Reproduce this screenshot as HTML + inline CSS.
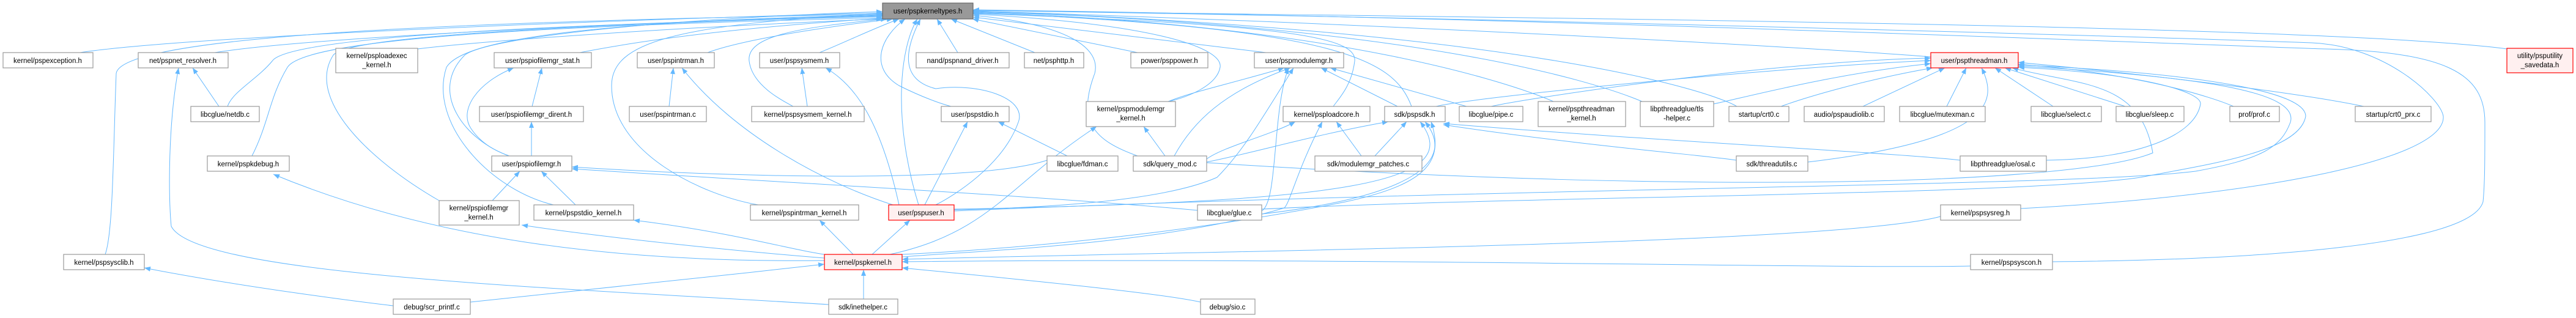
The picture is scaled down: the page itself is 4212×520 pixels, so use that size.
<!DOCTYPE html>
<html><head><meta charset="utf-8"><style>
html,body{margin:0;padding:0;background:#fff;}
svg{display:block;}
text{font-family:"Liberation Sans",sans-serif;font-size:11.5px;fill:#000;text-anchor:middle;}
.n{fill:#fff;stroke:#999;stroke-width:1.2;}
.r{fill:#fff0f0;stroke:#f00;stroke-width:1.2;}
.g{fill:#999;stroke:#666;stroke-width:1.2;}
path.e{fill:none;stroke:#63b8ff;stroke-width:1;marker-start:url(#a);}
</style></head><body>
<svg width="4212" height="520" viewBox="0 0 4212 520" xmlns="http://www.w3.org/2000/svg">
<defs><marker id="a" markerUnits="userSpaceOnUse" markerWidth="11" markerHeight="8" refX="10" refY="4" orient="auto-start-reverse"><path d="M0,0 L10,4 L0,8 z" fill="#63b8ff"/></marker></defs>
<g>
<!-- edges from pspkerneltypes -->
<path class="e" d="M1443,21 C1000,32 300,60 131,86"/>
<path class="e" d="M1443,23 C800,35 200,55 190,120 C185,250 185,380 172,416"/>
<path class="e" d="M1443,25 C1000,38 500,62 351,86"/>
<path class="e" d="M1443,27 C900,40 470,60 445,100 C420,130 380,150 372,174"/>
<path class="e" d="M1443,29 C900,42 500,62 470,110 C440,160 440,200 412,255"/>
<path class="e" d="M1443,31 C1100,45 800,66 683,80"/>
<path class="e" d="M1443,30 C1200,45 1050,66 948,86"/>
<path class="e" d="M1443,19 C1100,30 800,60 760,90 C700,150 760,230 833,255"/>
<path class="e" d="M1443,26 C900,42 570,60 545,90 C500,160 600,260 718,328"/>
<path class="e" d="M1443,24 C1000,35 760,60 730,110 C700,200 800,310 905,335"/>
<path class="e" d="M1460,31 C1300,50 1200,70 1157,86"/>
<path class="e" d="M1470,31 C1420,50 1380,70 1340,86"/>
<path class="e" d="M1450,31 C1300,45 1220,60 1225,100 C1230,140 1280,165 1297,174"/>
<path class="e" d="M1443,22 C1100,40 1000,70 1000,140 C1000,250 1150,320 1240,335"/>
<path class="e" d="M1500,31 C1470,80 1460,200 1502,335"/>
<path class="e" d="M1480,31 C1440,60 1420,110 1470,140 C1510,160 1540,170 1555,174"/>
<path class="e" d="M1505,31 C1480,80 1470,130 1530,145 C1600,135 1680,160 1665,200 C1640,270 1560,320 1530,335"/>
<path class="e" d="M1532,31 L1566,86"/>
<path class="e" d="M1555,31 L1692,86"/>
<path class="e" d="M1590,31 L1860,86"/>
<path class="e" d="M1591,28 L2070,86"/>
<path class="e" d="M1591,25 C1750,40 1800,80 1790,120 C1760,200 1790,230 1860,255"/>
<path class="e" d="M1591,23 C1900,40 2000,80 1995,110 C1990,140 1940,160 1910,166"/>
<path class="e" d="M1591,22 C2100,40 2220,60 2215,100 C2210,140 2190,160 2180,174"/>
<path class="e" d="M1591,21 C2200,45 2280,100 2308,174"/>
<path class="e" d="M1591,20 C2200,40 2480,140 2540,166"/>
<path class="e" d="M1591,19 C2300,40 2600,130 2685,166"/>
<path class="e" d="M1591,18 C2300,40 3000,80 3157,93"/>
<path class="e" d="M1591,18 C2500,50 2800,150 2840,174"/>
<path class="e" d="M1591,17 C2500,30 3800,40 4099,80"/>
<path class="e" d="M1591,17 C2500,30 3500,60 3780,70 C3900,75 3990,160 3995,190 C4000,260 3700,320 3304,341"/>
<path class="e" d="M1591,16 C2500,28 3500,70 3800,80 C4000,85 4063,120 4063,200 C4063,260 4063,300 4060,330 C4040,400 3700,425 3356,428"/>
<!-- pspnet_resolver -->
<path class="e" d="M315,111 L358,174"/>
<path class="e" d="M292,111 C275,200 275,320 280,370 C320,450 900,470 1355,498"/>
<!-- iofilemgr group -->
<path class="e" d="M886,111 L870,174"/>
<path class="e" d="M840,111 C780,135 750,180 770,210 C790,240 820,250 832,255"/>
<path class="e" d="M869,199 L869,255"/>
<path class="e" d="M850,280 L805,328"/>
<path class="e" d="M885,280 L941,335"/>
<path class="e" d="M935,273 C1200,290 1600,300 1712,262"/>
<path class="e" d="M935,276 C1300,300 1700,320 1958,344"/>
<!-- intrman / sysmem -->
<path class="e" d="M1101,111 L1094,174"/>
<path class="e" d="M1115,111 C1200,220 1350,300 1460,335"/>
<path class="e" d="M1311,111 L1320,174"/>
<path class="e" d="M1350,111 C1400,140 1440,200 1470,335"/>
<!-- pspkernel parents -->
<path class="e" d="M853,368 C1000,390 1200,410 1348,422"/>
<path class="e" d="M1036,360 C1200,380 1300,410 1348,416"/>
<path class="e" d="M1340,360 L1395,416"/>
<path class="e" d="M447,285 C700,390 1000,430 1348,426"/>
<path class="e" d="M1488,360 L1426,416"/>
<path class="e" d="M1793,207 C1650,300 1620,380 1455,416"/>
<path class="e" d="M1475,424 C2000,410 3000,400 3173,354"/>
<path class="e" d="M1475,428 C2200,420 3000,440 3222,435"/>
<path class="e" d="M2162,199 C2120,280 2110,330 2100,340 C1900,400 1600,410 1475,420"/>
<path class="e" d="M2340,199 C2360,260 2340,300 2200,330 C1900,390 1600,410 1475,416"/>
<!-- pspkernel children -->
<path class="e" d="M1348,432 C1100,460 800,490 769,494"/>
<path class="e" d="M1412,441 L1412,489"/>
<path class="e" d="M1475,438 C1700,460 1900,480 1963,494"/>
<path class="e" d="M236,438 C400,470 600,495 643,500"/>
<!-- pspstdio -->
<path class="e" d="M1582,199 L1512,335"/>
<path class="e" d="M1632,199 L1745,255"/>
<!-- modulemgr -->
<path class="e" d="M1870,207 L1905,255"/>
<path class="e" d="M2100,111 C2000,140 1950,150 1910,166"/>
<path class="e" d="M2110,111 C2000,150 1950,200 1920,255"/>
<path class="e" d="M2115,111 C2060,200 2030,250 1990,290 C1900,330 1700,340 1560,343"/>
<path class="e" d="M2107,111 C2080,180 2090,330 2063,345"/>
<path class="e" d="M2160,111 L2285,174"/>
<path class="e" d="M2175,111 L2398,174"/>
<!-- loadcore / pspsdk -->
<path class="e" d="M2185,199 L2226,255"/>
<path class="e" d="M2118,199 C2080,220 2000,240 1973,260"/>
<path class="e" d="M2300,199 L2248,255"/>
<path class="e" d="M2270,199 C2150,220 2050,250 1973,265"/>
<path class="e" d="M2322,199 C2400,300 2200,330 1560,342"/>
<path class="e" d="M2330,199 C2380,260 2320,320 2063,350"/>
<path class="e" d="M2360,204 C2600,240 2800,255 2839,262"/>
<path class="e" d="M2360,202 C2700,230 3100,250 3205,262"/>
<!-- pspthreadman children -->
<path class="e" d="M3157,95 C2900,100 2500,160 2438,174"/>
<path class="e" d="M3157,99 C2900,110 2400,160 2348,174"/>
<path class="e" d="M3157,104 C3000,120 2850,160 2802,170"/>
<path class="e" d="M3160,111 C3050,130 2950,160 2912,174"/>
<path class="e" d="M3180,111 L3046,174"/>
<path class="e" d="M3215,111 L3183,174"/>
<path class="e" d="M3240,111 C3270,170 3250,230 2956,265"/>
<path class="e" d="M3262,111 L3357,174"/>
<path class="e" d="M3278,111 L3475,174"/>
<path class="e" d="M3300,105 C3500,120 3620,160 3652,174"/>
<path class="e" d="M3300,102 C3600,130 3800,160 3865,174"/>
<path class="e" d="M3300,110 C3500,120 3600,150 3598,170 C3590,220 3500,260 3346,262"/>
<path class="e" d="M3300,108 C3600,125 3760,150 3745,200 C3730,240 3700,260 3590,280 C3400,305 2500,305 1560,345"/>
<path class="e" d="M3300,106 C3600,120 3770,150 3770,190 C3760,250 3600,270 3500,290 C3300,320 2500,320 2063,342"/>
<path class="e" d="M3290,111 C3400,140 3500,130 3520,250 C3400,300 2800,320 1973,266"/>
</g>
<!-- nodes -->
<g>
<rect class="g" x="1443" y="5" width="148" height="26"/><text x="1517" y="22">user/pspkerneltypes.h</text>
<rect class="n" x="5" y="86" width="147" height="25"/><text x="78" y="103">kernel/pspexception.h</text>
<rect class="n" x="226" y="86" width="147" height="25"/><text x="299" y="103">net/pspnet_resolver.h</text>
<rect class="n" x="549" y="79" width="134" height="40"/><text x="616" y="95">kernel/psploadexec</text><text x="616" y="110">_kernel.h</text>
<rect class="n" x="312" y="174" width="112" height="25"/><text x="368" y="191">libcglue/netdb.c</text>
<rect class="n" x="339" y="255" width="134" height="25"/><text x="406" y="272">kernel/pspkdebug.h</text>
<rect class="n" x="104" y="416" width="132" height="25"/><text x="170" y="433">kernel/pspsysclib.h</text>
<rect class="n" x="643" y="489" width="126" height="25"/><text x="706" y="506">debug/scr_printf.c</text>
<rect class="n" x="808" y="86" width="159" height="25"/><text x="887" y="103">user/pspiofilemgr_stat.h</text>
<rect class="n" x="1042" y="86" width="126" height="25"/><text x="1105" y="103">user/pspintrman.h</text>
<rect class="n" x="1242" y="86" width="131" height="25"/><text x="1307" y="103">user/pspsysmem.h</text>
<rect class="n" x="784" y="174" width="170" height="25"/><text x="869" y="191">user/pspiofilemgr_dirent.h</text>
<rect class="n" x="1029" y="174" width="126" height="25"/><text x="1092" y="191">user/pspintrman.c</text>
<rect class="n" x="1229" y="174" width="184" height="25"/><text x="1321" y="191">kernel/pspsysmem_kernel.h</text>
<rect class="n" x="804" y="255" width="131" height="25"/><text x="869" y="272">user/pspiofilemgr.h</text>
<rect class="n" x="718" y="328" width="131" height="40"/><text x="783" y="344">kernel/pspiofilemgr</text><text x="783" y="359">_kernel.h</text>
<rect class="n" x="873" y="335" width="163" height="25"/><text x="954" y="352">kernel/pspstdio_kernel.h</text>
<rect class="n" x="1227" y="335" width="177" height="25"/><text x="1315" y="352">kernel/pspintrman_kernel.h</text>
<rect class="r" x="1348" y="416" width="127" height="25"/><text x="1411" y="433">kernel/pspkernel.h</text>
<rect class="n" x="1355" y="489" width="113" height="25"/><text x="1411" y="506">sdk/inethelper.c</text>
<rect class="n" x="1498" y="86" width="152" height="25"/><text x="1574" y="103">nand/pspnand_driver.h</text>
<rect class="n" x="1675" y="86" width="97" height="25"/><text x="1723" y="103">net/psphttp.h</text>
<rect class="n" x="1849" y="86" width="126" height="25"/><text x="1912" y="103">power/psppower.h</text>
<rect class="n" x="2051" y="86" width="146" height="25"/><text x="2124" y="103">user/pspmodulemgr.h</text>
<rect class="n" x="1539" y="174" width="111" height="25"/><text x="1594" y="191">user/pspstdio.h</text>
<rect class="n" x="1776" y="166" width="146" height="41"/><text x="1849" y="182">kernel/pspmodulemgr</text><text x="1849" y="197">_kernel.h</text>
<rect class="n" x="2098" y="174" width="142" height="25"/><text x="2169" y="191">kernel/psploadcore.h</text>
<rect class="n" x="1712" y="255" width="116" height="25"/><text x="1770" y="272">libcglue/fdman.c</text>
<rect class="n" x="1853" y="255" width="120" height="25"/><text x="1913" y="272">sdk/query_mod.c</text>
<rect class="r" x="1453" y="335" width="107" height="25"/><text x="1506" y="352">user/pspuser.h</text>
<rect class="n" x="1958" y="335" width="105" height="25"/><text x="2010" y="352">libcglue/glue.c</text>
<rect class="n" x="1963" y="489" width="89" height="25"/><text x="2007" y="506">debug/sio.c</text>
<rect class="n" x="2264" y="174" width="99" height="25"/><text x="2313" y="191">sdk/pspsdk.h</text>
<rect class="n" x="2386" y="174" width="104" height="25"/><text x="2438" y="191">libcglue/pipe.c</text>
<rect class="n" x="2515" y="166" width="143" height="41"/><text x="2586" y="182">kernel/pspthreadman</text><text x="2586" y="197">_kernel.h</text>
<rect class="n" x="2682" y="166" width="120" height="41"/><text x="2742" y="182">libpthreadglue/tls</text><text x="2742" y="197">-helper.c</text>
<rect class="n" x="2150" y="255" width="175" height="25"/><text x="2237" y="272">sdk/modulemgr_patches.c</text>
<rect class="r" x="3157" y="86" width="143" height="25"/><text x="3228" y="103">user/pspthreadman.h</text>
<rect class="n" x="2827" y="174" width="98" height="25"/><text x="2876" y="191">startup/crt0.c</text>
<rect class="n" x="2950" y="174" width="131" height="25"/><text x="3015" y="191">audio/pspaudiolib.c</text>
<rect class="n" x="3106" y="174" width="140" height="25"/><text x="3176" y="191">libcglue/mutexman.c</text>
<rect class="n" x="3321" y="174" width="115" height="25"/><text x="3378" y="191">libcglue/select.c</text>
<rect class="n" x="3460" y="174" width="111" height="25"/><text x="3515" y="191">libcglue/sleep.c</text>
<rect class="n" x="2839" y="255" width="117" height="25"/><text x="2897" y="272">sdk/threadutils.c</text>
<rect class="n" x="3205" y="255" width="141" height="25"/><text x="3275" y="272">libpthreadglue/osal.c</text>
<rect class="n" x="3173" y="335" width="131" height="25"/><text x="3238" y="352">kernel/pspsysreg.h</text>
<rect class="n" x="3222" y="416" width="134" height="25"/><text x="3289" y="433">kernel/pspsyscon.h</text>
<rect class="n" x="3646" y="174" width="81" height="25"/><text x="3686" y="191">prof/prof.c</text>
<rect class="n" x="3851" y="174" width="124" height="25"/><text x="3913" y="191">startup/crt0_prx.c</text>
<rect class="r" x="4099" y="79" width="108" height="40"/><text x="4153" y="95">utility/psputility</text><text x="4153" y="110">_savedata.h</text>
</g>
</svg>
</body></html>
